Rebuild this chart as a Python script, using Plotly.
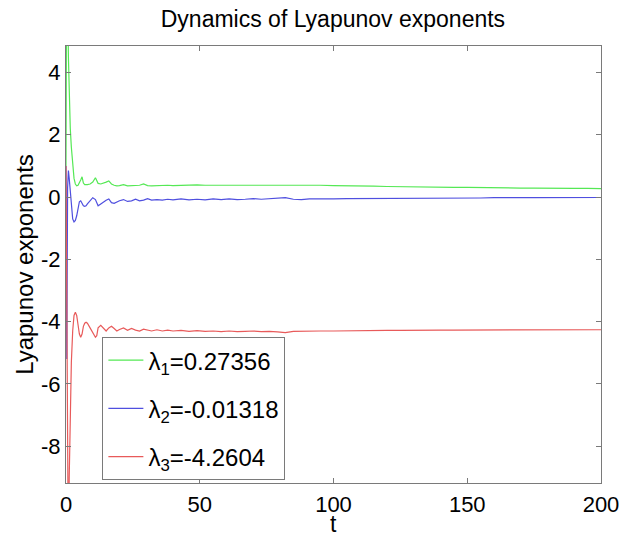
import plotly.graph_objects as go

t = [0, 0.3, 0.6, 0.9, 1.2, 1.6, 2.0, 2.5, 3.0, 3.5,
     4.0, 4.5, 5.0, 5.5, 6.0, 6.5, 7.0, 7.5, 8.0, 9.0,
     10, 11, 11.5, 12, 13, 14, 15, 16, 17, 18,
     19, 20, 21.5, 23, 24.5, 26, 27.5, 29, 30.5, 32,
     34, 36, 38, 40, 43, 46, 49, 52, 55, 58,
     61, 64, 67, 70, 73, 76, 79, 82, 85, 88,
     91, 95, 100, 105, 110, 115, 120, 125, 130, 135,
     140, 145, 150, 155, 160, 165, 170, 175, 180, 185,
     190, 195, 200]

lambda1 = [1.0, 9.0, 6.5, 4.5, 3.2, 2.2, 1.6, 1.0, 0.6, 0.42,
           0.36, 0.38, 0.45, 0.55, 0.65, 0.45, 0.40, 0.39, 0.40, 0.42,
           0.48, 0.62, 0.50, 0.44, 0.42, 0.44, 0.48, 0.52, 0.42, 0.38,
           0.36, 0.37, 0.40, 0.36, 0.37, 0.36, 0.38, 0.42, 0.37, 0.36,
           0.37, 0.36, 0.38, 0.37, 0.38, 0.37, 0.39, 0.38, 0.38, 0.39,
           0.38, 0.39, 0.38, 0.39, 0.40, 0.39, 0.40, 0.39, 0.38, 0.39,
           0.40, 0.38, 0.37, 0.37, 0.36, 0.35, 0.34, 0.33, 0.33, 0.32,
           0.32, 0.31, 0.31, 0.30, 0.30, 0.29, 0.29, 0.29, 0.28, 0.28,
           0.28, 0.28, 0.27356]

lambda2 = [1.0, -5.2, 0.3, 0.85, 0.6, 0.1, -0.35, -0.7, -0.8, -0.75,
           -0.6, -0.35, -0.15, -0.12, -0.2, -0.28, -0.3, -0.28, -0.22, -0.1,
           -0.02, -0.08, -0.22, -0.28, -0.22, -0.15, -0.1, -0.06, -0.18, -0.2,
           -0.15, -0.12, -0.08, -0.14, -0.12, -0.07, -0.12, -0.1, -0.05, -0.1,
           -0.08, -0.1, -0.07, -0.09, -0.06, -0.09, -0.07, -0.09, -0.06, -0.08,
           -0.06, -0.08, -0.07, -0.05, -0.07, -0.06, -0.05, -0.02, -0.07, -0.08,
           -0.06, -0.07, -0.06, -0.05, -0.05, -0.04, -0.05, -0.04, -0.04, -0.03,
           -0.04, -0.03, -0.03, -0.03, -0.02, -0.03, -0.02, -0.02, -0.02, -0.02,
           -0.015, -0.015, -0.01318]

lambda3 = [1.0, -5.2, -9.5, -12.0, -9.0, -6.5, -5.3, -4.3, -3.8, -3.7,
           -3.8, -4.1, -4.4, -4.5, -4.4, -4.15, -4.05, -4.02, -4.05, -4.2,
           -4.35, -4.5, -4.45, -4.2, -4.12, -4.2, -4.3, -4.2, -4.15, -4.22,
           -4.3, -4.25, -4.2, -4.28, -4.22, -4.27, -4.3, -4.24, -4.28, -4.3,
           -4.26, -4.3, -4.27, -4.3, -4.28, -4.31, -4.29, -4.31, -4.3, -4.32,
           -4.3, -4.32, -4.31, -4.3, -4.32, -4.31, -4.33, -4.35, -4.31, -4.3,
           -4.31, -4.3, -4.3, -4.29, -4.29, -4.28, -4.28, -4.28, -4.27, -4.27,
           -4.27, -4.27, -4.27, -4.26, -4.26, -4.26, -4.26, -4.26, -4.26, -4.26,
           -4.26, -4.26, -4.2604]

names = ["λ<sub>1</sub>=0.27356", "λ<sub>2</sub>=-0.01318", "λ<sub>3</sub>=-4.2604"]
colors = ["#55e855", "#4f4fdf", "#e85a5a"]
series = [lambda1, lambda2, lambda3]

x_ticks = [0, 50, 100, 150, 200]
y_ticks = [-8, -6, -4, -2, 0, 2, 4]

assert all(len(s) == len(t) for s in series)

FONT = "Arial, Liberation Sans, sans-serif"

fig = go.Figure()
for i, (s, n, c) in enumerate(zip(series, names, colors)):
    fig.add_trace(go.Scatter(x=t, y=s, mode="lines", name=n,
                             line=dict(color=c, width=1.2),
                             legendgroup=f"g{i}"))

axis_common = dict(showgrid=False, zeroline=False, showline=True, mirror="ticks",
                   linecolor="#7a7a7a", linewidth=1, ticks="inside", ticklen=5,
                   tickcolor="#7a7a7a", ticklabeloverflow="allow", automargin=False,
                   tickfont=dict(size=22, color="black", family=FONT))

fig.update_layout(
    width=620, height=538,
    margin=dict(l=66, r=19, t=46, b=55),
    paper_bgcolor="white", plot_bgcolor="white",
    font=dict(family=FONT, color="black"),
    title=dict(text="Dynamics of Lyapunov exponents", x=0.537, xanchor="center",
               y=0.965, yanchor="middle", font=dict(size=23, color="black")),
    xaxis=dict(range=[0, 200], tickvals=x_ticks, ticktext=[str(v) for v in x_ticks],
               ticklabelstandoff=2, **axis_common),
    yaxis=dict(range=[-9.18, 4.85], tickvals=y_ticks, ticktext=[str(v) for v in y_ticks],
               title=dict(text="Lyapunov exponents", font=dict(size=24), standoff=0),
               **axis_common),
    annotations=[dict(text="t", xref="paper", yref="paper", x=0.5, y=-0.1259,
                      xanchor="center", yanchor="bottom", showarrow=False, borderpad=0,
                      font=dict(size=23, color="black", family=FONT))],
    legend=dict(x=0.068, y=0.334, xanchor="left", yanchor="top",
                bgcolor="white", bordercolor="#7a7a7a", borderwidth=1,
                font=dict(size=24, color="black", family=FONT),
                tracegroupgap=14, itemwidth=35),
    showlegend=True,
)

fig.write_html("out.html")
